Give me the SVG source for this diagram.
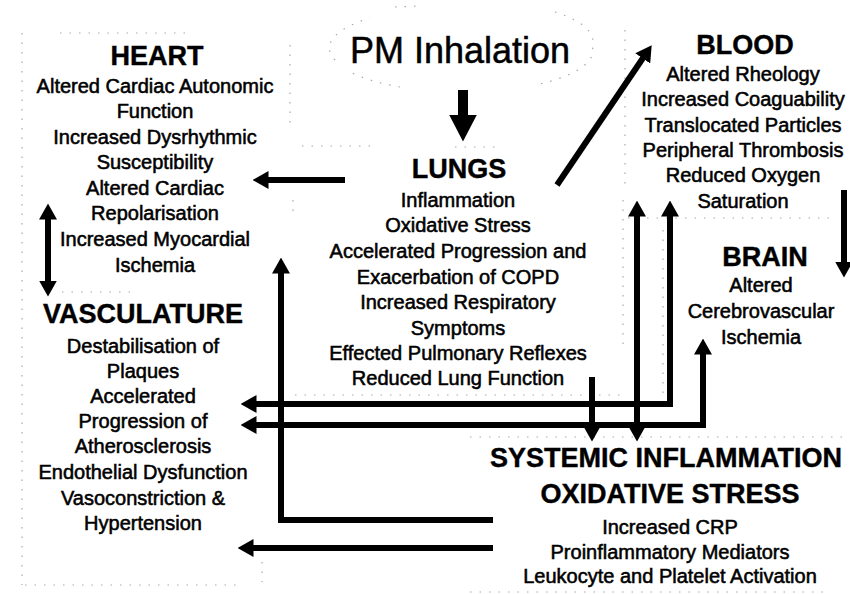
<svg xmlns="http://www.w3.org/2000/svg" width="850" height="594" viewBox="0 0 850 594">
<style>
  text { font-family: "Liberation Sans", Arial, Helvetica, sans-serif; fill: #000; text-anchor: middle; }
  .t { font-size: 27px; font-weight: bold; stroke: #000; stroke-width: 0.4; }
  .b { font-size: 20px; stroke: #000; stroke-width: 0.55; }
  .pm { font-size: 36px; stroke: #000; stroke-width: 0.5; }
  .dot { fill: none; stroke: #a8a8a8; stroke-width: 1.2; stroke-dasharray: 1.5 8; }
  .c { fill: none; stroke: #000; stroke-width: 6; stroke-linejoin: miter; }
</style>
<defs>
  <marker id="ah" markerUnits="userSpaceOnUse" viewBox="0 0 16 18" markerWidth="16" markerHeight="18" refX="0.5" refY="9" orient="auto-start-reverse">
    <path d="M0,0 L16,9 L0,18 z" fill="#000"/>
  </marker>
  <marker id="big" markerUnits="userSpaceOnUse" viewBox="0 0 27 28" markerWidth="27" markerHeight="28" refX="0.5" refY="14" orient="auto">
    <path d="M0,0 L27,14 L0,28 z" fill="#000"/>
  </marker>
</defs>
<rect width="850" height="594" fill="#fff"/>

<g id="guides">
  <path class="dot" d="M22,33 L22,585"/>
  <path class="dot" d="M60,33 L190,33"/>
  <path class="dot" d="M290,45 L290,125 M293,200 L293,218"/>
  <path class="dot" d="M62,292 L130,292"/>
  <path class="dot" d="M25,585 L240,585 M262,562 L262,582"/>
  <path class="dot" d="M302,146 L378,146 M455,147 L495,147"/>
  <path class="dot" d="M335,60 A135,42 0 0 1 370,18 M395,7 L420,6 M555,12 A135,42 0 0 1 592,46 A135,42 0 0 1 540,84 M400,87 A135,42 0 0 1 350,72"/>
  <path class="dot" d="M625,30 L625,185"/>
  <path class="dot" d="M628,218 L835,218"/>
  <path class="dot" d="M295,395 L620,395"/>
  <path class="dot" d="M470,437 L850,437"/>
  <path class="dot" d="M470,592 L830,592"/>
  <path class="dot" d="M623,200 L623,350 M663,230 L663,395"/>
</g>

<g id="node-pm">
  <text class="pm" x="460" y="63">PM Inhalation</text>
</g>

<g id="node-heart">
  <text class="t" x="157" y="65">HEART</text>
  <text class="b" x="155" y="93">Altered Cardiac Autonomic</text>
  <text class="b" x="155" y="118">Function</text>
  <text class="b" x="155" y="144">Increased Dysrhythmic</text>
  <text class="b" x="155" y="169">Susceptibility</text>
  <text class="b" x="155" y="195">Altered Cardiac</text>
  <text class="b" x="155" y="220">Repolarisation</text>
  <text class="b" x="155" y="246">Increased Myocardial</text>
  <text class="b" x="155" y="272">Ischemia</text>
</g>

<g id="node-vasculature">
  <text class="t" x="143" y="323">VASCULATURE</text>
  <text class="b" x="143" y="353">Destabilisation of</text>
  <text class="b" x="143" y="378">Plaques</text>
  <text class="b" x="143" y="403">Accelerated</text>
  <text class="b" x="143" y="428">Progression of</text>
  <text class="b" x="143" y="453">Atherosclerosis</text>
  <text class="b" x="143" y="479">Endothelial Dysfunction</text>
  <text class="b" x="143" y="505">Vasoconstriction &amp;</text>
  <text class="b" x="143" y="530">Hypertension</text>
</g>

<g id="node-lungs">
  <text class="t" x="459" y="178">LUNGS</text>
  <text class="b" x="458" y="207">Inflammation</text>
  <text class="b" x="458" y="232">Oxidative Stress</text>
  <text class="b" x="458" y="258">Accelerated Progression and</text>
  <text class="b" x="458" y="284">Exacerbation of COPD</text>
  <text class="b" x="458" y="309">Increased Respiratory</text>
  <text class="b" x="458" y="335">Symptoms</text>
  <text class="b" x="458" y="360">Effected Pulmonary Reflexes</text>
  <text class="b" x="458" y="385">Reduced Lung Function</text>
</g>

<g id="node-blood">
  <text class="t" x="745" y="54">BLOOD</text>
  <text class="b" x="743" y="81">Altered Rheology</text>
  <text class="b" x="743" y="106">Increased Coaguability</text>
  <text class="b" x="743" y="132">Translocated Particles</text>
  <text class="b" x="743" y="157">Peripheral Thrombosis</text>
  <text class="b" x="743" y="182">Reduced Oxygen</text>
  <text class="b" x="743" y="208">Saturation</text>
</g>

<g id="node-brain">
  <text class="t" x="765" y="266">BRAIN</text>
  <text class="b" x="761" y="292">Altered</text>
  <text class="b" x="761" y="318">Cerebrovascular</text>
  <text class="b" x="761" y="344">Ischemia</text>
</g>

<g id="node-systemic">
  <text class="t" x="666" y="467">SYSTEMIC INFLAMMATION</text>
  <text class="t" x="670" y="503">OXIDATIVE STRESS</text>
  <text class="b" x="670" y="534">Increased CRP</text>
  <text class="b" x="670" y="559">Proinflammatory Mediators</text>
  <text class="b" x="670" y="583">Leukocyte and Platelet Activation</text>
</g>

<g id="connectors">
  <path d="M463,90 L463,115" fill="none" stroke="#000" stroke-width="10" marker-end="url(#big)"/>
  <path class="c" d="M345,180 L268,180" marker-end="url(#ah)"/>
  <path class="c" d="M48,219 L48,281" marker-start="url(#ah)" marker-end="url(#ah)"/>
  <path class="c" d="M557,185 L643,58" stroke-width="5" marker-end="url(#ah)"/>
  <path class="c" d="M844,190 L844,262" marker-end="url(#ah)"/>
  <path class="c" d="M592,377 L592,426" marker-end="url(#ah)"/>
  <path class="c" d="M637,216 L637,426" marker-start="url(#ah)" marker-end="url(#ah)"/>
  <path class="c" d="M670,216 L670,404 L256,404" marker-start="url(#ah)" marker-end="url(#ah)"/>
  <path class="c" d="M703,354 L703,425 L256,425" marker-start="url(#ah)" marker-end="url(#ah)"/>
  <path class="c" d="M493,520 L281,520 L281,273" marker-end="url(#ah)"/>
  <path class="c" d="M493,548 L253,548" marker-end="url(#ah)"/>
</g>
</svg>
